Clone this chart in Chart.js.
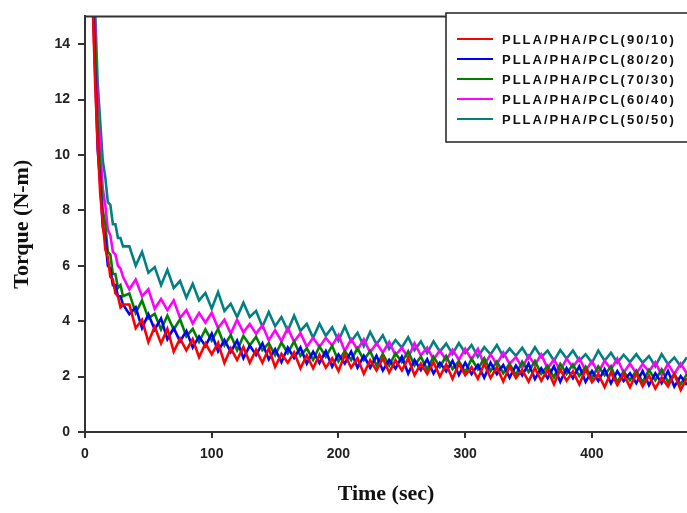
<!DOCTYPE html>
<html>
<head>
<meta charset="utf-8">
<title>Torque vs time</title>
<script src="https://cdn.jsdelivr.net/npm/chart.js@4/dist/chart.umd.min.js"></script>
<style>
  body { margin: 0; background: #fff; }
  #chart { display: block; }
</style>
</head>
<body>
<canvas id="chart" width="687" height="513"></canvas>
<script>
// time axis (sec): 2 s steps at the start, then 5 s steps
const times = [4, 6, 8, 10, 12, 14, 16, 18, 20, 22, 24, 26, 28, 30,
  35, 40, 45, 50, 55, 60, 65, 70, 75, 80,
  85, 90, 95, 100, 105, 110, 115, 120, 125, 130,
  135, 140, 145, 150, 155, 160, 165, 170, 175, 180,
  185, 190, 195, 200, 205, 210, 215, 220, 225, 230,
  235, 240, 245, 250, 255, 260, 265, 270, 275, 280,
  285, 290, 295, 300, 305, 310, 315, 320, 325, 330,
  335, 340, 345, 350, 355, 360, 365, 370, 375, 380,
  385, 390, 395, 400, 405, 410, 415, 420, 425, 430,
  435, 440, 445, 450, 455, 460, 465, 470, 475];

const seriesLabels = ['PLLA/PHA/PCL(90/10)', 'PLLA/PHA/PCL(80/20)', 'PLLA/PHA/PCL(70/30)',
  'PLLA/PHA/PCL(60/40)', 'PLLA/PHA/PCL(50/50)'];
const seriesColors = ['#ff0000', '#0000ff', '#008000', '#ff00ff', '#008080'];

// torque (N-m)
const torque9010 = [18, 15.5, 12.6, 10.4, 8.6, 7.6, 6.6, 6.3, 5.6, 5.5, 5.0, 4.9, 4.5, 4.6,
  4.6, 3.75, 4.05, 3.25, 3.8, 3.2, 3.72, 2.9, 3.37, 2.95,
  3.35, 2.7, 3.2, 2.8, 3.22, 2.49, 3.02, 2.6, 3.07, 2.5,
  2.97, 2.5, 3.02, 2.35, 2.82, 2.5, 2.87, 2.3, 2.77, 2.3,
  2.79, 2.32, 2.66, 2.2, 2.79, 2.32, 2.66, 2.1, 2.59, 2.22,
  2.66, 2.15, 2.59, 2.22, 2.66, 2.05, 2.47, 2.1, 2.52, 2.0,
  2.44, 1.92, 2.46, 2.05, 2.34, 1.92, 2.46, 1.95, 2.34, 1.82,
  2.36, 1.95, 2.24, 1.82, 2.31, 1.85, 2.24, 1.72, 2.26, 1.85,
  2.19, 1.72, 2.26, 1.8, 2.09, 1.62, 2.16, 1.7, 2.09, 1.62,
  2.11, 1.65, 2.04, 1.57, 1.96, 1.65, 2.09, 1.52, 1.95];

const torque8020 = [18.5, 15.8, 13.0, 10.2, 9.0, 7.4, 7.0, 6.0, 5.9, 5.3, 5.3, 4.9, 4.9, 4.6,
  4.25, 4.5, 3.75, 4.25, 3.7, 4.1, 3.35, 3.75, 3.27, 3.65,
  3.05, 3.45, 3.1, 3.55, 2.91, 3.32, 2.89, 3.3, 2.66, 3.12,
  2.78, 3.2, 2.62, 2.99, 2.52, 3.05, 2.67, 3.05, 2.47, 2.9,
  2.49, 2.92, 2.36, 2.8, 2.47, 2.9, 2.32, 2.75, 2.32, 2.75,
  2.22, 2.6, 2.29, 2.72, 2.11, 2.6, 2.24, 2.62, 2.11, 2.5,
  2.19, 2.57, 2.06, 2.5, 2.09, 2.42, 1.96, 2.5, 2.09, 2.42,
  1.96, 2.4, 2.04, 2.47, 1.91, 2.3, 1.94, 2.37, 1.81, 2.3,
  1.94, 2.37, 1.81, 2.2, 1.84, 2.27, 1.76, 2.2, 1.84, 2.12,
  1.76, 2.2, 1.69, 2.12, 1.76, 2.2, 1.64, 2.02, 1.7];

const torque7030 = [19, 16.5, 14.2, 11.0, 9.5, 8.0, 7.5, 6.5, 6.4, 5.7, 5.7, 5.2, 5.3, 4.9,
  5.0, 4.3, 4.75, 4.1, 4.27, 3.7, 4.2, 3.7, 4.07, 3.45,
  3.72, 3.25, 3.7, 3.3, 3.72, 3.13, 3.5, 2.95, 3.47, 3.13,
  3.44, 2.95, 3.21, 2.77, 3.23, 2.85, 3.27, 2.75, 3.02, 2.6,
  3.09, 2.72, 3.11, 2.55, 2.92, 2.6, 3.02, 2.6, 2.92, 2.4,
  2.82, 2.4, 2.84, 2.52, 2.91, 2.4, 2.72, 2.25, 2.72, 2.35,
  2.74, 2.27, 2.56, 2.15, 2.64, 2.27, 2.66, 2.2, 2.54, 2.12,
  2.46, 2.05, 2.54, 2.17, 2.56, 2.1, 2.39, 1.97, 2.46, 2.1,
  2.44, 2.02, 2.36, 1.95, 2.37, 2.05, 2.37, 1.8, 2.19, 1.87,
  2.21, 1.8, 2.24, 1.87, 2.26, 1.8, 2.09, 1.72, 2.1];

const torque6040 = [19.5, 17.0, 14.6, 11.8, 10.2, 8.8, 8.2, 7.3, 7.1, 6.5, 6.4, 6.0, 5.9, 5.6,
  5.15, 5.5, 4.9, 5.15, 4.45, 4.8, 4.4, 4.75, 4.12, 4.4,
  3.92, 4.3, 3.95, 4.3, 3.75, 4.05, 3.55, 4.05, 3.6, 3.9,
  3.55, 3.85, 3.31, 3.67, 3.28, 3.75, 3.26, 3.57, 3.08, 3.4,
  3.07, 3.4, 3.12, 3.5, 2.92, 3.35, 2.97, 3.35, 2.87, 3.2,
  2.87, 3.25, 2.77, 3.05, 2.67, 3.2, 2.77, 3.05, 2.62, 2.95,
  2.59, 2.97, 2.61, 3.0, 2.62, 3.0, 2.42, 2.8, 2.44, 2.87,
  2.46, 2.7, 2.32, 2.75, 2.42, 2.8, 2.29, 2.62, 2.21, 2.65,
  2.34, 2.67, 2.21, 2.55, 2.14, 2.57, 2.26, 2.65, 2.14, 2.47,
  2.11, 2.45, 2.19, 2.52, 2.06, 2.45, 2.09, 2.47, 2.1];

const torque5050 = [20, 17.5, 15.2, 12.6, 11.2, 9.8, 9.2, 8.3, 8.2, 7.5, 7.5, 7.0, 7.0, 6.7,
  6.7, 6.0, 6.5, 5.75, 5.95, 5.3, 5.85, 5.2, 5.45, 4.85,
  5.35, 4.75, 5.02, 4.45, 5.05, 4.37, 4.63, 4.15, 4.67, 4.15,
  4.37, 3.8, 4.33, 3.82, 4.15, 3.65, 4.2, 3.65, 3.9, 3.4,
  3.91, 3.47, 3.78, 3.3, 3.81, 3.27, 3.58, 3.1, 3.61, 3.17,
  3.49, 3.0, 3.32, 3.05, 3.42, 2.95, 3.27, 2.85, 3.27, 2.9,
  3.19, 2.82, 3.21, 2.85, 3.14, 2.72, 3.06, 2.8, 3.14, 2.72,
  3.01, 2.75, 3.04, 2.67, 3.06, 2.7, 2.94, 2.57, 2.96, 2.65,
  2.94, 2.57, 2.81, 2.5, 2.94, 2.57, 2.86, 2.5, 2.79, 2.52,
  2.81, 2.5, 2.74, 2.37, 2.81, 2.45, 2.69, 2.37, 2.7];

const seriesValues = [torque9010, torque8020, torque7030, torque6040, torque5050];

const axisColor = '#333333';
const tickFont = { family: 'Arial, "Liberation Sans", sans-serif', size: 14, weight: 'bold' };
const titleFont = { family: '"Times New Roman", "Liberation Serif", serif', size: 22, weight: 'bold' };

// box around the plot top + legend drawn inside the plot
const framePlugin = {
  id: 'frame',
  afterDraw(chart) {
    const ctx = chart.ctx;
    const area = chart.chartArea;
    ctx.save();
    ctx.strokeStyle = axisColor;
    ctx.lineWidth = 2;
    ctx.beginPath();
    ctx.moveTo(area.left, area.top);
    ctx.lineTo(area.right, area.top);
    ctx.stroke();

    // legend box
    const boxX = 446, boxY = 13, boxW = 260, boxH = 129;
    ctx.fillStyle = '#fff';
    ctx.fillRect(boxX, boxY, boxW, boxH);
    ctx.lineWidth = 1.5;
    ctx.strokeStyle = '#222';
    ctx.strokeRect(boxX, boxY, boxW, boxH);

    ctx.font = 'bold 13px Arial, "Liberation Sans", sans-serif';
    ctx.textBaseline = 'middle';
    ctx.textAlign = 'left';
    if ('letterSpacing' in ctx) ctx.letterSpacing = '2px';
    chart.data.datasets.forEach((ds, i) => {
      const y = 39 + i * 20;
      ctx.strokeStyle = ds.borderColor;
      ctx.lineWidth = 2;
      ctx.beginPath();
      ctx.moveTo(457, y);
      ctx.lineTo(493, y);
      ctx.stroke();
      ctx.fillStyle = '#111';
      ctx.fillText(ds.label, 502, y + 1);
    });
    ctx.restore();
  }
};

const ctx = document.getElementById('chart').getContext('2d');
new Chart(ctx, {
  type: 'line',
  data: {
    datasets: seriesLabels.map((label, i) => ({
      label: label,
      data: times.map((t, j) => ({ x: t, y: seriesValues[i][j] })),
      borderColor: seriesColors[i],
      backgroundColor: seriesColors[i],
      borderWidth: 2.6,
      pointRadius: 0,
      tension: 0,
      fill: false
    }))
  },
  options: {
    responsive: false,
    animation: false,
    layout: { padding: { top: 5, right: 0, bottom: 0, left: 0 } },
    plugins: {
      legend: { display: false },
      tooltip: { enabled: false }
    },
    scales: {
      x: {
        type: 'linear',
        min: 0,
        max: 475,
        afterFit(scale) { scale.height = 81; },
        border: { color: axisColor, width: 2 },
        grid: { drawOnChartArea: false, tickLength: 6, color: axisColor, lineWidth: 2 },
        ticks: { stepSize: 100, includeBounds: false, color: '#222', font: tickFont, padding: 8, maxRotation: 0 },
        title: { display: true, text: 'Time (sec)', color: '#111', font: titleFont, padding: { top: 0, bottom: 5 } }
      },
      y: {
        min: 0,
        max: 15,
        afterFit(scale) { scale.width = 85; },
        border: { color: axisColor, width: 2 },
        grid: { drawOnChartArea: false, tickLength: 7, color: axisColor, lineWidth: 2 },
        ticks: { stepSize: 2, includeBounds: false, color: '#222', font: tickFont, padding: 8 },
        title: { display: true, text: 'Torque (N-m)', color: '#111', font: titleFont, padding: { top: 9, bottom: 0 } }
      }
    }
  },
  plugins: [framePlugin]
});
</script>
</body>
</html>
